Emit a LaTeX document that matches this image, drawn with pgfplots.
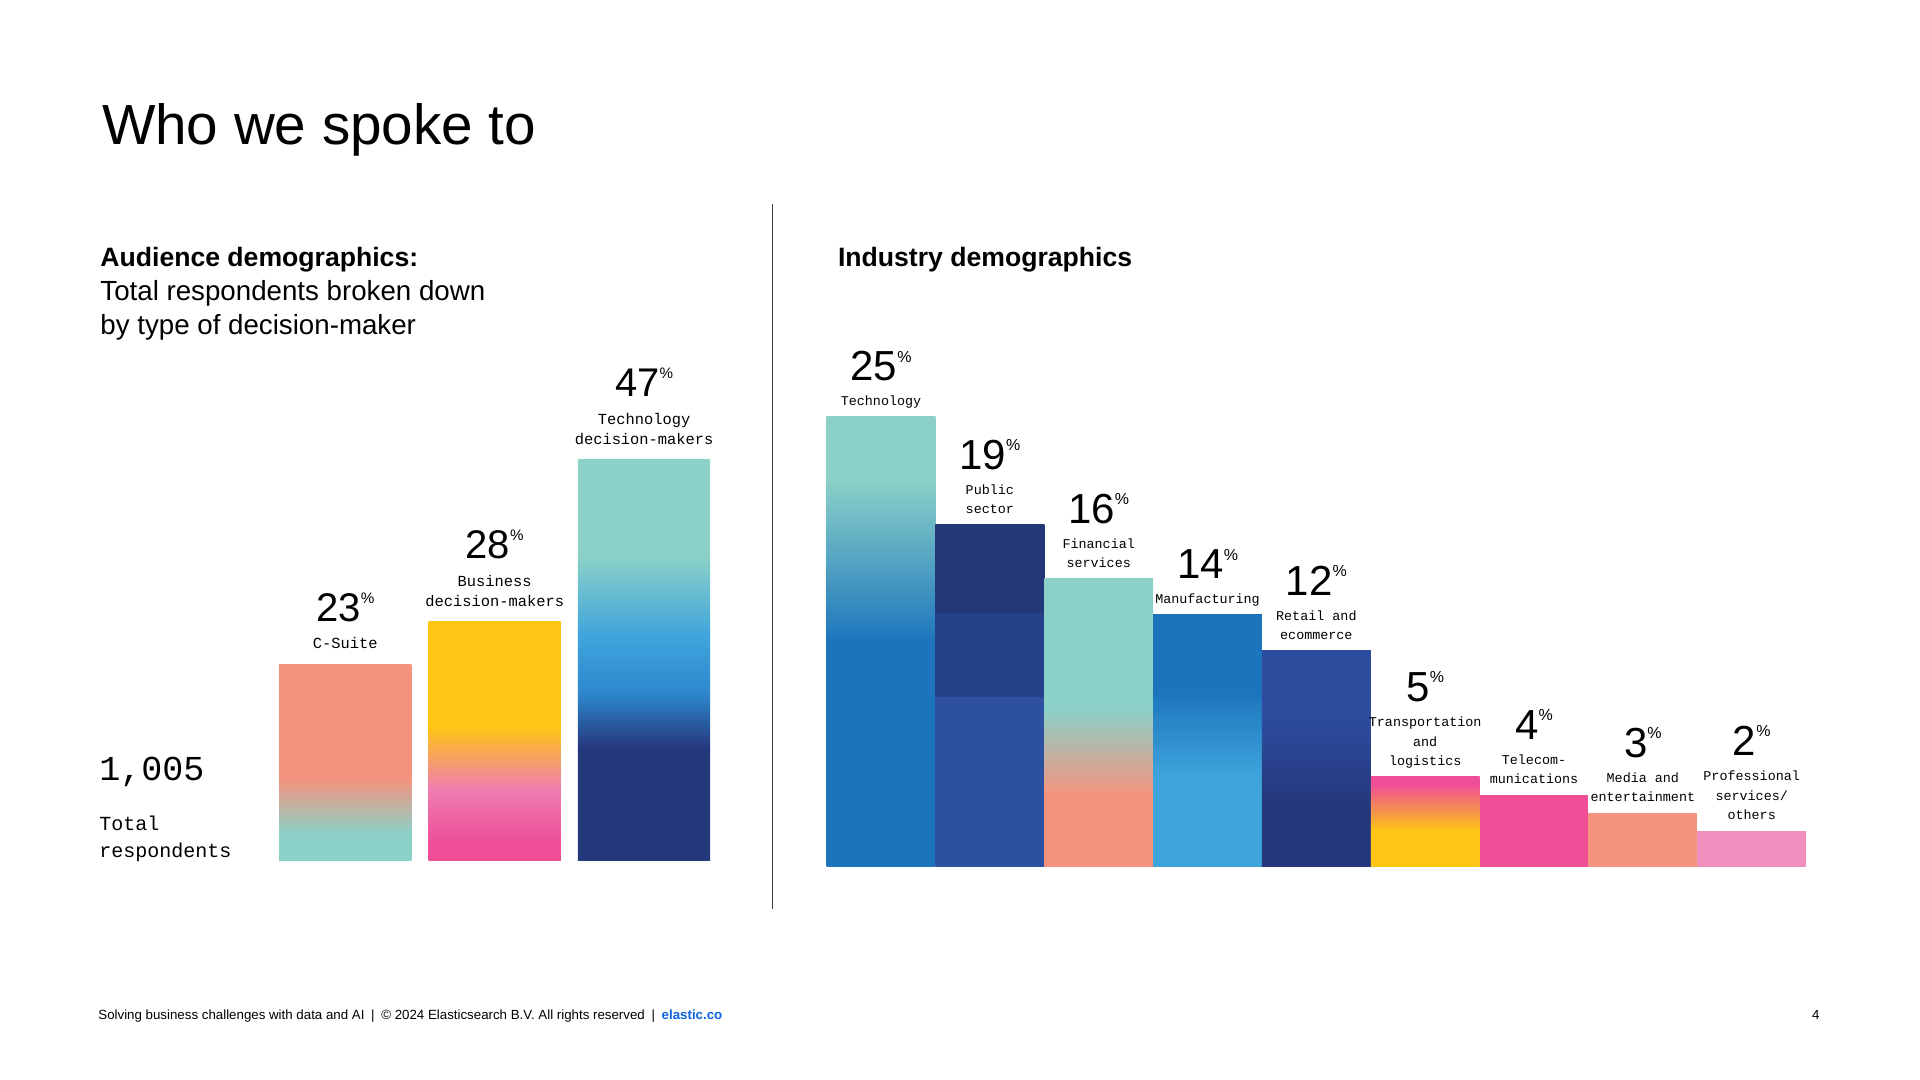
\documentclass[border=0pt]{standalone}
\usepackage{pgfplots}
\pgfplotsset{compat=1.18}
\usepackage{fontspec}
\setmainfont{Liberation Sans}
\newfontfamily\monof{Liberation Mono}

\definecolor{cteal}{HTML}{8BD1C8}
\definecolor{csalmon}{HTML}{F4937E}
\definecolor{cyellow}{HTML}{FEC514}
\definecolor{chotpink}{HTML}{EE4F97}
\definecolor{clightpink}{HTML}{F190BF}
\definecolor{cpinkmix}{HTML}{F07DB2}
\definecolor{cnavy}{HTML}{24377B}
\definecolor{cblue}{HTML}{1C75BC}
\definecolor{clightblue}{HTML}{3FA4DC}
\definecolor{cmidblue}{HTML}{2E88CE}
\definecolor{croyal}{HTML}{2E4D9F}
\definecolor{cpubtop}{HTML}{243779}
\definecolor{cpubmid}{HTML}{27408A}
\definecolor{cpubbot}{HTML}{2E50A1}
\definecolor{celastic}{HTML}{0B64DD}

% vertical shadings: 25bp = bar bottom, 75bp = bar top
\pgfdeclareverticalshading{shcsuite}{100bp}{color(0bp)=(cteal); color(25bp)=(cteal); color(32bp)=(cteal); color(46bp)=(csalmon); color(75bp)=(csalmon); color(100bp)=(csalmon)}
\pgfdeclareverticalshading{shbusiness}{100bp}{color(0bp)=(chotpink); color(25bp)=(chotpink); color(29bp)=(chotpink); color(40bp)=(cpinkmix); color(53bp)=(cyellow); color(75bp)=(cyellow); color(100bp)=(cyellow)}
\pgfdeclareverticalshading{shtechdm}{100bp}{color(0bp)=(cnavy); color(25bp)=(cnavy); color(39bp)=(cnavy); color(46bp)=(cmidblue); color(53bp)=(clightblue); color(63bp)=(cteal); color(75bp)=(cteal); color(100bp)=(cteal)}
\pgfdeclareverticalshading{shtech}{100bp}{color(0bp)=(cblue); color(25bp)=(cblue); color(50bp)=(cblue); color(68bp)=(cteal); color(75bp)=(cteal); color(100bp)=(cteal)}
\pgfdeclareverticalshading{shpublic}{100bp}{color(0bp)=(cpubbot); color(25bp)=(cpubbot); color(49.98bp)=(cpubbot); color(50bp)=(cpubmid); color(62.23bp)=(cpubmid); color(62.25bp)=(cpubtop); color(75bp)=(cpubtop); color(100bp)=(cpubtop)}
\pgfdeclareverticalshading{shfin}{100bp}{color(0bp)=(csalmon); color(25bp)=(csalmon); color(37.5bp)=(csalmon); color(52.5bp)=(cteal); color(75bp)=(cteal); color(100bp)=(cteal)}
\pgfdeclareverticalshading{shmanu}{100bp}{color(0bp)=(clightblue); color(25bp)=(clightblue); color(42.5bp)=(clightblue); color(60bp)=(cblue); color(75bp)=(cblue); color(100bp)=(cblue)}
\pgfdeclareverticalshading{shretail}{100bp}{color(0bp)=(cnavy); color(25bp)=(cnavy); color(39bp)=(cnavy); color(61bp)=(croyal); color(75bp)=(croyal); color(100bp)=(croyal)}
\pgfdeclareverticalshading{shtrans}{100bp}{color(0bp)=(cyellow); color(25bp)=(cyellow); color(45bp)=(cyellow); color(71bp)=(chotpink); color(75bp)=(chotpink); color(100bp)=(chotpink)}

\newcommand{\stack}[2]{\vbox{\baselineskip=#1\lineskiplimit=-20pt\halign{\hfil##\hfil\cr#2\crcr}}}
\newcommand{\pct}[2]{#1\raisebox{0.45em}{\fontsize{#2}{#2}\selectfont\%}}

% right chart label: x, value, number, nlines, lines
\newcommand{\rlab}[5]{%
  \node[anchor=base, inner sep=0pt, yshift=5.5pt, font=\monof\fontsize{6.7}{9.8}\selectfont] at (axis cs:#1,#2) {\stack{9.8pt}{#5}};
  \node[anchor=base, inner sep=0pt, yshift={5.5pt+(#4-1)*9.8pt+12.5pt}, font=\fontsize{21}{21}\selectfont] at (axis cs:#1,#2) {\pct{#3}{8}};
}
% left chart label
\newcommand{\llab}[5]{%
  \node[anchor=base, inner sep=0pt, yshift=7.8pt, font=\monof\fontsize{7.7}{10}\selectfont] at (axis cs:#1,#2) {\stack{10pt}{#5}};
  \node[anchor=base, inner sep=0pt, yshift={7.8pt+(#4-1)*10pt+13.7pt}, font=\fontsize{20}{20}\selectfont] at (axis cs:#1,#2) {\pct{#3}{7.6}};
}

\begin{document}
\begin{tikzpicture}
\useasboundingbox (0,0) rectangle (960pt,540pt);
\fill[white] (0,0) rectangle (960pt,540pt);

% titles
\node[anchor=base west, inner sep=0pt, font=\fontsize{28.3}{28}\selectfont] at (50.8pt,467.5pt) {Who we spoke to};
\node[anchor=base west, inner sep=0pt, font=\bfseries\fontsize{13.3}{16}\selectfont] at (50pt,406.5pt) {Audience demographics:};
\node[anchor=base west, inner sep=0pt, font=\fontsize{13.85}{16}\selectfont] at (50pt,389.5pt) {Total respondents broken down};
\node[anchor=base west, inner sep=0pt, font=\fontsize{13.85}{16}\selectfont] at (50pt,372.5pt) {by type of decision-maker};
\node[anchor=base west, inner sep=0pt, font=\bfseries\fontsize{13.3}{16}\selectfont] at (418.8pt,406.5pt) {Industry demographics};

% divider
\draw[black!75, line width=0.6pt] (386.3pt,85.7pt) -- (386.3pt,437.8pt);

% total respondents
\node[anchor=base west, inner sep=0pt, font=\monof\fontsize{17.5}{18}\selectfont] at (49.5pt,149.5pt) {1,005};
\node[anchor=base west, inner sep=0pt, font=\monof\fontsize{10}{13.5}\selectfont] at (49.5pt,124.5pt) {Total};
\node[anchor=base west, inner sep=0pt, font=\monof\fontsize{10}{13.5}\selectfont] at (49.5pt,111pt) {respondents};

% left chart
\begin{axis}[
  at={(135.3pt,109.5pt)}, anchor=south west,
  width=224.1pt, height=213.5pt, scale only axis,
  xmin=-0.5, xmax=2.5, ymin=0, ymax=50,
  hide axis, clip=false,
]
\addplot[ybar, bar width=0.885, bar shift=0pt, draw=none, shade, shading=shcsuite] coordinates {(0,23)};
\addplot[ybar, bar width=0.885, bar shift=0pt, draw=none, shade, shading=shbusiness] coordinates {(1,28)};
\addplot[ybar, bar width=0.885, bar shift=0pt, draw=none, shade, shading=shtechdm] coordinates {(2,47)};
\llab{0}{23}{23}{1}{C-Suite}
\llab{1}{28}{28}{2}{Business\cr decision-makers}
\llab{2}{47}{47}{2}{Technology\cr decision-makers}
\end{axis}

% right chart
\begin{axis}[
  at={(413.3pt,106.5pt)}, anchor=south west,
  width=489.75pt, height=270pt, scale only axis,
  xmin=-0.5, xmax=8.5, ymin=0, ymax=30,
  hide axis, clip=false,
]
\addplot[ybar, bar width=1, bar shift=0pt, draw=none, shade, shading=shtech] coordinates {(0,25)};
\addplot[ybar, bar width=1, bar shift=0pt, draw=none, shade, shading=shpublic] coordinates {(1,19)};
\addplot[ybar, bar width=1, bar shift=0pt, draw=none, shade, shading=shfin] coordinates {(2,16)};
\addplot[ybar, bar width=1, bar shift=0pt, draw=none, shade, shading=shmanu] coordinates {(3,14)};
\addplot[ybar, bar width=1, bar shift=0pt, draw=none, shade, shading=shretail] coordinates {(4,12)};
\addplot[ybar, bar width=1, bar shift=0pt, draw=none, shade, shading=shtrans] coordinates {(5,5)};
\addplot[ybar, bar width=1, bar shift=0pt, draw=none, fill=chotpink] coordinates {(6,4)};
\addplot[ybar, bar width=1, bar shift=0pt, draw=none, fill=csalmon] coordinates {(7,3)};
\addplot[ybar, bar width=1, bar shift=0pt, draw=none, fill=clightpink] coordinates {(8,2)};
\rlab{0}{25}{25}{1}{Technology}
\rlab{1}{19}{19}{2}{Public\cr sector}
\rlab{2}{16}{16}{2}{Financial\cr services}
\rlab{3}{14}{14}{1}{Manufacturing}
\rlab{4}{12}{12}{2}{Retail and\cr ecommerce}
\rlab{5}{5}{5}{3}{Transportation\cr and\cr logistics}
\rlab{6}{4}{4}{2}{Telecom-\cr munications}
\rlab{7}{3}{3}{2}{Media and\cr entertainment}
\rlab{8}{2}{2}{3}{Professional\cr services/\cr others}
\end{axis}

% footer
\node[anchor=base west, inner sep=0pt, font=\fontsize{6.65}{7}\selectfont] at (49pt,30pt) {Solving business challenges with data and AI\enspace|\enspace\textcopyright{} 2024 Elasticsearch B.V. All rights reserved\enspace|\enspace\textcolor{celastic}{\bfseries elastic.co}};
\node[anchor=base east, inner sep=0pt, font=\fontsize{6.65}{7}\selectfont] at (910pt,30pt) {4};
\end{tikzpicture}
\end{document}
